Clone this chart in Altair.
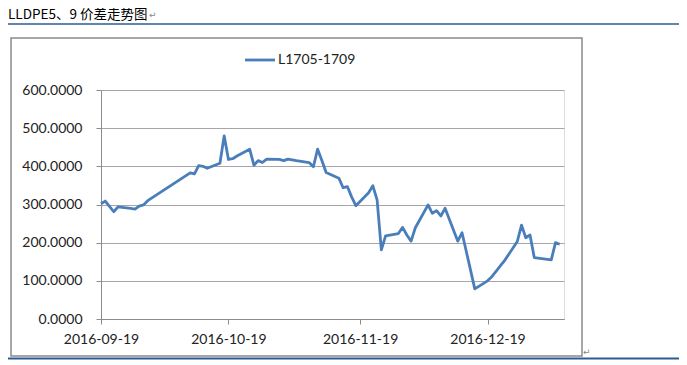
import altair as alt
import pandas as pd

# ---- data ----
dates = [
    "2016-09-19", "2016-09-20", "2016-09-21", "2016-09-22", "2016-09-23",
    "2016-09-26", "2016-09-27", "2016-09-28", "2016-09-29", "2016-09-30",
    "2016-10-10", "2016-10-11", "2016-10-12", "2016-10-13", "2016-10-14",
    "2016-10-17", "2016-10-18", "2016-10-19", "2016-10-20", "2016-10-21",
    "2016-10-24", "2016-10-25", "2016-10-26", "2016-10-27", "2016-10-28",
    "2016-10-31", "2016-11-01", "2016-11-02", "2016-11-03", "2016-11-04",
    "2016-11-07", "2016-11-08", "2016-11-09", "2016-11-10", "2016-11-11",
    "2016-11-14", "2016-11-15", "2016-11-16", "2016-11-17", "2016-11-18",
    "2016-11-21", "2016-11-22", "2016-11-23", "2016-11-24", "2016-11-25",
    "2016-11-28", "2016-11-29", "2016-11-30", "2016-12-01", "2016-12-02",
    "2016-12-05", "2016-12-06", "2016-12-07", "2016-12-08", "2016-12-09",
    "2016-12-12", "2016-12-13", "2016-12-14", "2016-12-15", "2016-12-16",
    "2016-12-19", "2016-12-20", "2016-12-21", "2016-12-22", "2016-12-23",
    "2016-12-26", "2016-12-27", "2016-12-28", "2016-12-29", "2016-12-30",
    "2017-01-03", "2017-01-04", "2017-01-05",
]
values = [
    302, 309, 295, 281, 294,
    290, 288, 296, 299, 310,
    383, 380, 402, 400, 395,
    408, 480, 418, 420, 427,
    445, 403, 415, 410, 419,
    418, 415, 419, 417, 415,
    410, 399, 445, 415, 384,
    369, 344, 347, 320, 297,
    331, 349, 312, 181, 218,
    224, 240, 220, 204, 239,
    299, 277, 284, 270, 290,
    204, 226, 177, 128, 79,
    100, 111, 125, 139, 153,
    203, 246, 213, 220, 161,
    155, 200, 196,
]
series_name = "L1705-1709"
page_title = "LLDPE5、9 价差走势图"
y_ticks = [0, 100, 200, 300, 400, 500, 600]
x_ticks = [(2016, 9, 19), (2016, 10, 19), (2016, 11, 19), (2016, 12, 19)]
x_domain = [(2016, 9, 19), (2017, 1, 6)]

df = pd.DataFrame({"date": dates, "value": values, "series": series_name})

LINE_BLUE = "#4A7EBB"
GRID = "#a6a6a6"
AXIS = "#8c8c8c"
LABEL_FONT = "Lato"

def dt(t):
    return alt.DateTime(year=t[0], month=t[1], date=t[2], utc=True)

line = alt.Chart(df).mark_line(color=LINE_BLUE, strokeWidth=2.8, strokeJoin="round").encode(
    x=alt.X(
        "date:T",
        scale=alt.Scale(type="utc", domain=[dt(d) for d in x_domain], nice=False),
        axis=alt.Axis(
            values=[dt(d) for d in x_ticks],
            format="%Y-%m-%d",
            title=None,
            grid=False,
            domainColor=AXIS,
            tickColor=AXIS,
            tickSize=5,
            labelPadding=8,
            labelFont=LABEL_FONT,
            labelFontSize=14,
            labelColor="#222222",
            labelFlush=False,
            labelOverlap=False,
        ),
    ),
    y=alt.Y(
        "value:Q",
        scale=alt.Scale(domain=[0, 600], nice=False),
        axis=alt.Axis(
            values=y_ticks,
            format=".4f",
            title=None,
            grid=True,
            gridColor=GRID,
            domainColor=AXIS,
            tickColor=AXIS,
            tickSize=5,
            labelPadding=14,
            labelFont=LABEL_FONT,
            labelFontSize=14,
            labelColor="#222222",
        ),
    ),
)

one = alt.Data(values=[{"k": 1}])

border = alt.Chart(one).mark_rect(fill=None, stroke="#8a8a8a", strokeWidth=1.5).encode(
    x=alt.value(-90), x2=alt.value(481), y=alt.value(-52), y2=alt.value(266)
)
top_rule = alt.Chart(one).mark_rule(color="#2C5D8F", strokeWidth=1.5).encode(
    x=alt.value(-93), x2=alt.value(579), y=alt.value(-66)
)
bottom_rule = alt.Chart(one).mark_rule(color="#2C5D8F", strokeWidth=2).encode(
    x=alt.value(-93), x2=alt.value(579), y=alt.value(268.5)
)
title_txt = alt.Chart(one).mark_text(
    align="left", baseline="alphabetic", font="Noto Sans CJK SC", fontSize=13.5, color="#000000"
).encode(x=alt.value(-93), y=alt.value(-71), text=alt.value(page_title))
ret1 = alt.Chart(one).mark_text(
    align="left", baseline="alphabetic", font="DejaVu Sans", fontSize=9, color="#888888"
).encode(x=alt.value(48), y=alt.value(-72), text=alt.value("↵"))
ret2 = alt.Chart(one).mark_text(
    align="left", baseline="middle", font="DejaVu Sans", fontSize=9, color="#888888"
).encode(x=alt.value(482), y=alt.value(262), text=alt.value("↵"))

leg_line = alt.Chart(one).mark_rule(color=LINE_BLUE, strokeWidth=2.8).encode(
    x=alt.value(144), x2=alt.value(174), y=alt.value(-30)
)
leg_text = alt.Chart(one).mark_text(
    align="left", baseline="middle", font=LABEL_FONT, fontSize=14, color="#222222"
).encode(x=alt.value(177), y=alt.value(-30), text=alt.value(series_name))

chart = alt.layer(
    border, top_rule, bottom_rule, title_txt, ret1, ret2, line, leg_line, leg_text
).properties(
    width=463,
    height=229,
    autosize=alt.AutoSizeParams(type="none"),
    padding={"left": 93, "top": 82, "right": 115, "bottom": 41},
).configure_view(stroke=None).configure(background="white")

chart.save("out.html", embed_options={"renderer": "svg", "actions": False})
